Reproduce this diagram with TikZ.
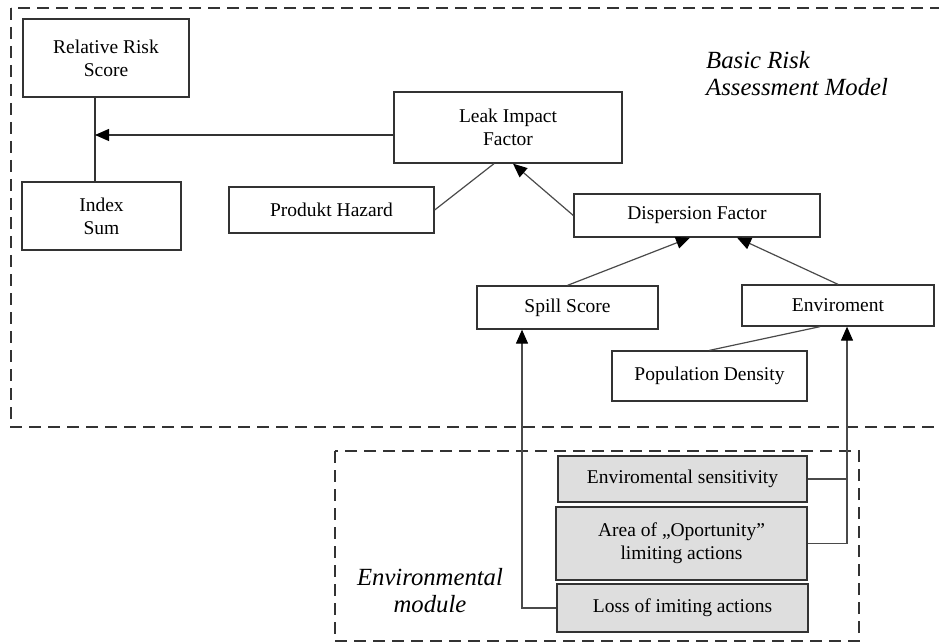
\documentclass[tikz,border=0pt]{standalone}
\usepackage{fontspec}
\setmainfont{Liberation Serif}
\usetikzlibrary{arrows.meta}
\definecolor{edge}{HTML}{333333}
\definecolor{wire}{HTML}{4A4A4A}
\definecolor{modfill}{HTML}{DEDEDE}
\begin{document}
\begin{tikzpicture}[x=1pt,y=-1pt,
  box/.style={draw=edge,line width=1.3pt,fill=white,align=center,inner sep=0pt,
    font=\fontsize{19.5}{23}\selectfont},
  modbox/.style={box,fill=modfill},
  frame/.style={draw=black!80,line width=1.4pt,dash pattern=on 12pt off 7pt},
  wirel/.style={draw=wire,line width=1.2pt},
  arr/.style={wirel,-{Triangle[length=14pt,width=12pt,color=black]}},
  caption/.style={font=\fontsize{24.7}{27}\selectfont\itshape,align=left,inner sep=0pt}]
\useasboundingbox (0,0) rectangle (939,644);
\clip (0,0) rectangle (939,644);

% dashed frames
\draw[frame] (11,8) rectangle (960,427);
\draw[frame] (335,451) rectangle (859,641);

% captions
\node[caption,anchor=north west] (cap1) at (706,51) {Basic Risk\\Assessment Model};
\node[caption,align=center] (cap2) at (430,591) {Environmental\\module};

% basic risk model boxes
\node[box,minimum width=166pt,minimum height=78pt] (rrs) at (106,58) {Relative Risk\\Score};
\node[box,minimum width=159pt,minimum height=68pt] (idx) at (101.5,216) {Index\\Sum};
\node[box,minimum width=228pt,minimum height=71pt] (lif) at (508,127.5) {Leak Impact\\Factor};
\node[box,minimum width=205pt,minimum height=46pt] (ph) at (331.5,210) {Produkt Hazard};
\node[box,minimum width=246pt,minimum height=43pt] (df) at (697,215.5) {Dispersion Factor};
\node[box,minimum width=181pt,minimum height=43pt] (ss) at (567.5,307.5) {Spill Score};
\node[box,minimum width=192pt,minimum height=41pt] (env) at (838,305.5) {Enviroment};
\node[box,minimum width=195pt,minimum height=50pt] (pd) at (709.5,376) {Population Density};

% environmental module boxes
\node[modbox,minimum width=249pt,minimum height=46pt] (es) at (682.5,479) {Enviromental sensitivity};
\node[modbox,minimum width=251pt,minimum height=73pt] (aop) at (681.5,543.5) {Area of „Oportunity”\\limiting actions};
\node[modbox,minimum width=251pt,minimum height=48pt] (loi) at (682.5,608) {Loss of imiting actions};

% connectors
\coordinate (j) at (95,135);
\draw[wirel,draw=edge] (j |- rrs.south) -- (j |- idx.north);
\draw[arr,draw=edge] (lif.west |- j) -- (j);
\draw[wirel] (ph.east) -- ([xshift=-14pt]lif.south);
\draw[arr] (df.west) -- ([xshift=5pt]lif.south);
\draw[arr] (ss.north) -- ([xshift=-7pt]df.south);
\draw[arr] (env.north) -- ([xshift=40pt]df.south);
\draw[wirel] (pd.north) -- ([xshift=-18pt]env.south);

\coordinate (up1) at ([xshift=-45.5pt]ss.south);
\coordinate (up2) at ([xshift=9pt]env.south);
\draw[arr] (loi.west) -| (up1);
\draw[arr] (aop.east) -| (up2);
\draw[wirel] (es.east) -- (es.east -| up2);
\end{tikzpicture}
\end{document}
